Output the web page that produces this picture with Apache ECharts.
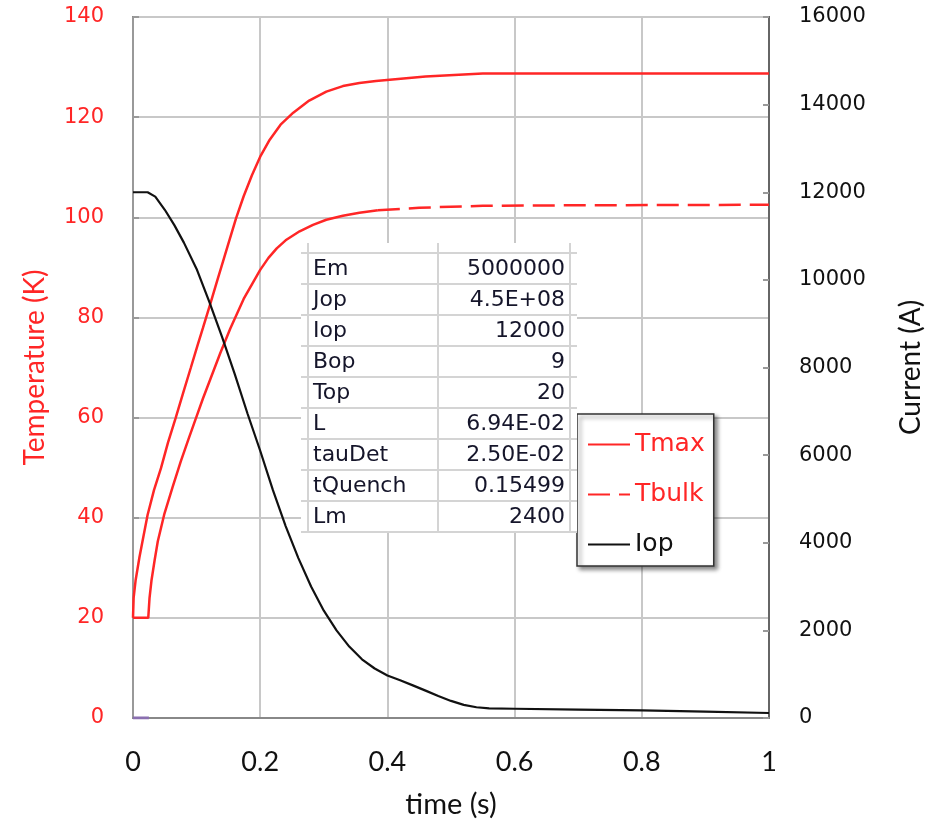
<!DOCTYPE html>
<html><head><meta charset="utf-8">
<script src="https://cdn.jsdelivr.net/npm/echarts@6/dist/echarts.min.js"></script>
<style>html,body{margin:0;padding:0;background:#fff}#c{width:933px;height:824px}</style>
</head><body><div id="c"></div>
<script>
// ---- data ----
const xTicks = [0, 0.2, 0.4, 0.6, 0.8, 1];
const tmaxTime = [0, 0.001, 0.004, 0.01, 0.016, 0.023, 0.033, 0.044, 0.055, 0.067, 0.079, 0.091, 0.101, 0.11, 0.122, 0.133, 0.143, 0.152, 0.162, 0.174, 0.187, 0.2, 0.215, 0.232, 0.252, 0.277, 0.304, 0.33, 0.356, 0.382, 0.408, 0.46, 0.55, 1.0];
const tmaxVal  = [20, 24, 27.4, 32, 36, 40.6, 45.5, 49.9, 55, 59.9, 65, 70, 74.2, 77.9, 82.9, 87.6, 91.8, 95.6, 99.8, 104.2, 108.4, 112.1, 115.5, 118.5, 120.9, 123.3, 125.1, 126.2, 126.8, 127.2, 127.5, 128.1, 128.7, 128.7];
const tbulkTimeA = [0, 0.024, 0.026, 0.029, 0.034, 0.039, 0.049, 0.062, 0.075, 0.087, 0.099, 0.11, 0.122, 0.137, 0.153, 0.174, 0.2, 0.213, 0.226, 0.24, 0.262, 0.283, 0.304, 0.33, 0.356, 0.385];
const tbulkValA  = [20, 20, 24, 27.4, 31.5, 35.3, 40.6, 46, 51.2, 55.6, 59.9, 63.8, 67.8, 72.8, 77.8, 83.7, 89.5, 91.9, 93.8, 95.4, 97.2, 98.5, 99.5, 100.3, 100.9, 101.4];
const tbulkTimeB = [0.385, 0.45, 0.55, 0.7, 1.0];
const tbulkValB  = [101.4, 101.9, 102.3, 102.4, 102.5];
const iopTime = [0, 0.023, 0.035, 0.05, 0.065, 0.08, 0.1, 0.12, 0.14, 0.16, 0.18, 0.2, 0.22, 0.24, 0.26, 0.28, 0.3, 0.32, 0.34, 0.36, 0.38, 0.4, 0.42, 0.44, 0.46, 0.48, 0.5, 0.52, 0.54, 0.56, 0.6, 0.7, 0.8, 0.9, 1.0];
const iopVal  = [12000, 12000, 11900, 11600, 11250, 10850, 10250, 9500, 8700, 7850, 6950, 6100, 5200, 4380, 3650, 3000, 2450, 2000, 1630, 1340, 1130, 970, 860, 745, 625, 500, 390, 300, 245, 220, 211, 192, 173, 145, 114];
const purpleTime = [0, 0.025];
const purpleVal = [0, 0];
const tableLabels = ['Em', 'Jop', 'Iop', 'Bop', 'Top', 'L', 'tauDet', 'tQuench', 'Lm'];
const tableValues = ['5000000', '4.5E+08', '12000', '9', '20', '6.94E-02', '2.50E-02', '0.15499', '2400'];

const zip = (a, b) => a.map((v, i) => [v, b[i]]);

// ---- table overlay (annotation) ----
const tbl = {x0: 301, y0: 243, x1: 577, y1: 533, colL: 308, colM: 438, colR: 570, rowTop: 253, rowH: 31};
const tableEls = [];
tableEls.push({type: 'rect', z: 100, shape: {x: tbl.x0, y: tbl.y0, width: tbl.x1 - tbl.x0, height: tbl.y1 - tbl.y0}, style: {fill: '#fff'}});
for (let i = 0; i <= tableLabels.length; i++) {
  const y = tbl.rowTop + i * tbl.rowH;
  tableEls.push({type: 'line', z: 101, shape: {x1: tbl.x0, y1: y, x2: tbl.x1, y2: y}, style: {stroke: '#d4d4d4', lineWidth: 2}});
}
[tbl.colL, tbl.colM, tbl.colR].forEach(x => {
  tableEls.push({type: 'line', z: 101, shape: {x1: x, y1: tbl.y0, x2: x, y2: tbl.y1}, style: {stroke: '#d4d4d4', lineWidth: 2}});
});
tableLabels.forEach((t, i) => {
  const yc = tbl.rowTop + i * tbl.rowH + tbl.rowH / 2 + 1;
  tableEls.push({type: 'text', z: 102, style: {x: 313, y: yc, text: t, fill: '#15152a', font: '22px "DejaVu Sans"', textAlign: 'left', textVerticalAlign: 'middle'}});
  tableEls.push({type: 'text', z: 102, style: {x: 565, y: yc, text: tableValues[i], fill: '#15152a', font: '22px "DejaVu Sans"', textAlign: 'right', textVerticalAlign: 'middle'}});
});

const RED = '#ff2626';
const chart = echarts.init(document.getElementById('c'), null, {renderer: 'canvas'});
chart.setOption({
  animation: false,
  backgroundColor: '#fff',
  grid: {left: 133, right: 158, top: 17, bottom: 103, show: true, borderColor: '#666', borderWidth: 2, backgroundColor: 'transparent'},
  xAxis: {
    type: 'value', min: 0, max: 1, interval: 0.2,
    name: 'time (s)', nameLocation: 'middle', nameGap: 72,
    nameTextStyle: {fontFamily: 'Lato', fontSize: 29, color: '#111'},
    axisLine: {show: true, lineStyle: {color: '#888', width: 2}},
    axisTick: {show: false},
    axisLabel: {margin: 31, fontFamily: 'Lato', fontSize: 27, color: '#111',
      formatter: v => (v === 0 || v === 1) ? String(v) : v.toFixed(1)},
    splitLine: {show: true, lineStyle: {color: '#c8c8c8', width: 2}}
  },
  yAxis: [{
    type: 'value', min: 0, max: 140, interval: 20, position: 'left',
    name: 'Temperature (K)', nameLocation: 'middle', nameGap: 84,
    nameTextStyle: {fontFamily: 'Lato', fontSize: 28, color: RED},
    axisLine: {show: true, lineStyle: {color: '#999', width: 2}},
    axisTick: {show: true, inside: true, length: 6, lineStyle: {color: '#999', width: 2}},
    axisLabel: {margin: 29, fontFamily: 'DejaVu Sans', fontSize: 21, color: RED},
    splitLine: {show: true, lineStyle: {color: '#c8c8c8', width: 2}}
  }, {
    type: 'value', min: 0, max: 16000, interval: 2000, position: 'right',
    name: 'Current (A)', nameLocation: 'middle', nameGap: 128,
    nameTextStyle: {fontFamily: 'Lato', fontSize: 28, color: '#111'},
    axisLine: {show: true, lineStyle: {color: '#666', width: 2}},
    axisTick: {show: true, inside: true, length: 6, lineStyle: {color: '#999', width: 2}},
    axisLabel: {margin: 30, fontFamily: 'DejaVu Sans', fontSize: 21, color: '#111',
      formatter: v => String(v)},
    splitLine: {show: false}
  }],
  legend: {
    orient: 'vertical', left: 577, top: 414,
    padding: [18, 9, 9, 10], itemGap: 25, itemWidth: 42, itemHeight: 14,
    backgroundColor: '#fff', borderColor: '#333', borderWidth: 1.5,
    shadowColor: 'rgba(0,0,0,0.45)', shadowBlur: 4, shadowOffsetX: 3, shadowOffsetY: 3,
    textStyle: {fontFamily: 'DejaVu Sans', fontSize: 25},
    itemStyle: {opacity: 0},
    selectedMode: false,
    data: [
      {name: 'Tmax', textStyle: {color: RED}},
      {name: 'Tbulk', textStyle: {color: RED}},
      {name: 'Iop', textStyle: {color: '#111'}}
    ]
  },
  graphic: [{type: 'group', children: tableEls}],
  series: [
    {name: 'Tmax', type: 'line', yAxisIndex: 0, data: zip(tmaxTime, tmaxVal), symbol: 'none',
      lineStyle: {color: RED, width: 2.5}, itemStyle: {color: RED}},
    {name: 'TbulkEarly', type: 'line', yAxisIndex: 0, data: zip(tbulkTimeA, tbulkValA), symbol: 'none',
      lineStyle: {color: RED, width: 2.5}, itemStyle: {color: RED}},
    {name: 'Tbulk', type: 'line', yAxisIndex: 0, data: zip(tbulkTimeB, tbulkValB), symbol: 'none',
      lineStyle: {color: RED, width: 2.5, type: [22, 9]}, itemStyle: {color: RED}},
    {name: 'Iop', type: 'line', yAxisIndex: 1, data: zip(iopTime, iopVal), symbol: 'none',
      lineStyle: {color: '#111', width: 2.2}, itemStyle: {color: '#111'}},
    {name: 'base', type: 'line', yAxisIndex: 0, data: zip(purpleTime, purpleVal), symbol: 'none',
      lineStyle: {color: '#8a6fb0', width: 3}, itemStyle: {color: '#8a6fb0'}}
  ]
});
</script>
</body></html>
